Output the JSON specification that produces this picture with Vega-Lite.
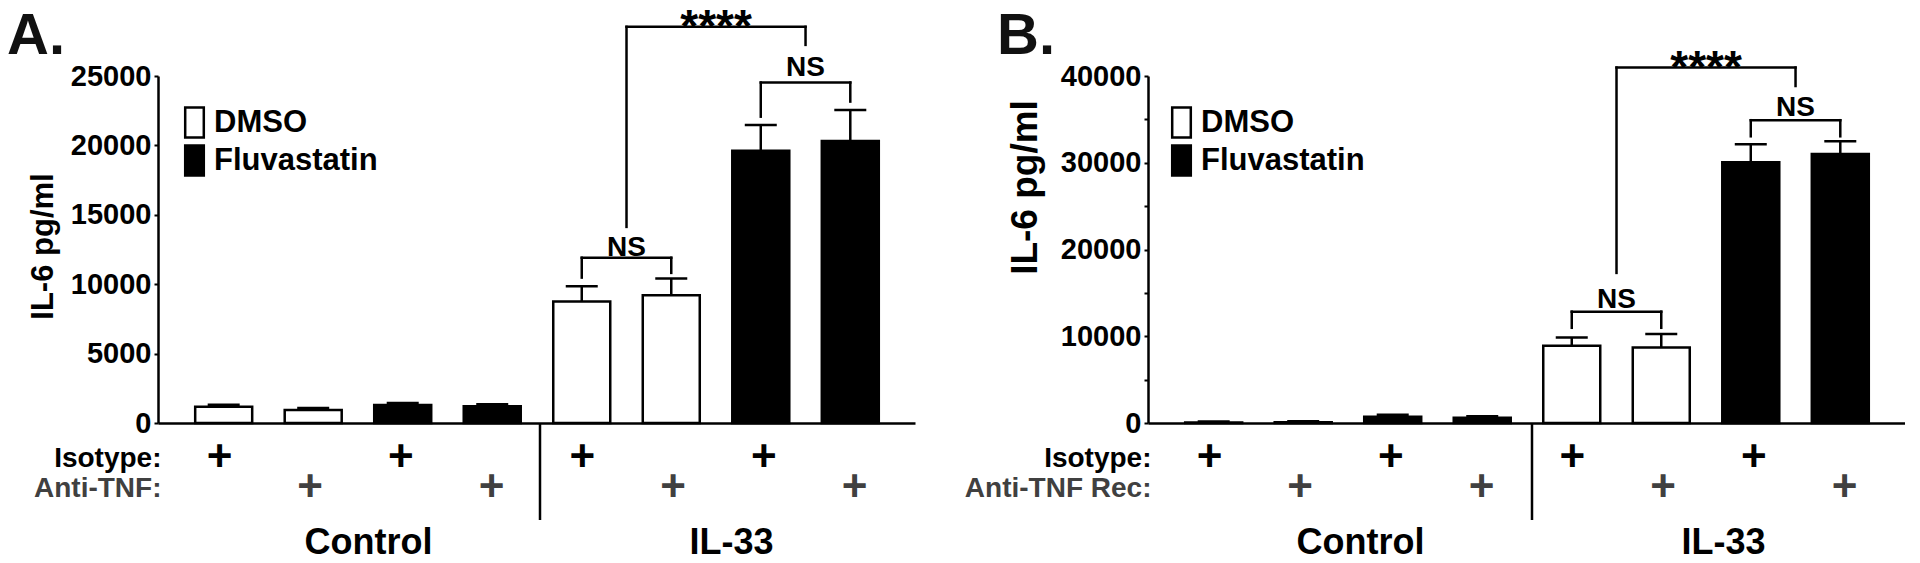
{
  "$schema": "https://vega.github.io/schema/vega-lite/v6.json",
  "padding": {"left": 7, "top": 4, "right": 0, "bottom": 0},
  "background": "white",
  "config": {
    "font": "Liberation Sans",
    "view": {"stroke": null},
    "axis": {"labelFont": "Liberation Sans", "titleFont": "Liberation Sans", "labelFontWeight": "bold", "titleFontWeight": "bold", "labelColor": "black", "titleColor": "black", "domainColor": "black", "tickColor": "black", "grid": false, "labelLimit": 0},
    "text": {"font": "Liberation Sans", "fontWeight": "bold", "color": "black"}
  },
  "datasets": {
    "barsA": [
      {"pos": 1, "treatment": "DMSO", "antibody": "Isotype", "group": "Control", "value": 1175, "upper": 1320},
      {"pos": 2, "treatment": "DMSO", "antibody": "Anti-TNF", "group": "Control", "value": 937, "upper": 1080},
      {"pos": 3, "treatment": "Fluvastatin", "antibody": "Isotype", "group": "Control", "value": 1297, "upper": 1441},
      {"pos": 4, "treatment": "Fluvastatin", "antibody": "Anti-TNF", "group": "Control", "value": 1200, "upper": 1347},
      {"pos": 5, "treatment": "DMSO", "antibody": "Isotype", "group": "IL-33", "value": 8746, "upper": 9857},
      {"pos": 6, "treatment": "DMSO", "antibody": "Anti-TNF", "group": "IL-33", "value": 9208, "upper": 10404},
      {"pos": 7, "treatment": "Fluvastatin", "antibody": "Isotype", "group": "IL-33", "value": 19612, "upper": 21470},
      {"pos": 8, "treatment": "Fluvastatin", "antibody": "Anti-TNF", "group": "IL-33", "value": 20311, "upper": 22559}
    ],
    "barsB": [
      {"pos": 1, "treatment": "DMSO", "antibody": "Isotype", "group": "Control", "value": 60, "upper": 170},
      {"pos": 2, "treatment": "DMSO", "antibody": "Anti-TNF Rec", "group": "Control", "value": 90, "upper": 200},
      {"pos": 3, "treatment": "Fluvastatin", "antibody": "Isotype", "group": "Control", "value": 726, "upper": 957},
      {"pos": 4, "treatment": "Fluvastatin", "antibody": "Anti-TNF Rec", "group": "Control", "value": 615, "upper": 772},
      {"pos": 5, "treatment": "DMSO", "antibody": "Isotype", "group": "IL-33", "value": 8900, "upper": 9855},
      {"pos": 6, "treatment": "DMSO", "antibody": "Anti-TNF Rec", "group": "IL-33", "value": 8690, "upper": 10260},
      {"pos": 7, "treatment": "Fluvastatin", "antibody": "Isotype", "group": "IL-33", "value": 30050, "upper": 32120},
      {"pos": 8, "treatment": "Fluvastatin", "antibody": "Anti-TNF Rec", "group": "IL-33", "value": 31010, "upper": 32470}
    ],
    "bracketsA": [
      {"pos": 5.5, "pos2": 7.5, "value": 28540, "value2": 28540},
      {"pos": 5.5, "pos2": 5.5, "value": 14129, "value2": 28540},
      {"pos": 7.5, "pos2": 7.5, "value": 27242, "value2": 28540},
      {"pos": 7, "pos2": 8, "value": 24526, "value2": 24526},
      {"pos": 7, "pos2": 7, "value": 22069, "value2": 24526},
      {"pos": 8, "pos2": 8, "value": 23157, "value2": 24526},
      {"pos": 5, "pos2": 6, "value": 11903, "value2": 11903},
      {"pos": 5, "pos2": 5, "value": 10476, "value2": 11903},
      {"pos": 6, "pos2": 6, "value": 10815, "value2": 11903}
    ],
    "labelsA": [
      {"pos": 6.5, "value": 28460, "label": "****"},
      {"pos": 7.5, "value": 25563, "label": "NS"},
      {"pos": 5.5, "value": 12637, "label": "NS"}
    ],
    "bracketsB": [
      {"pos": 5.5, "pos2": 7.5, "value": 40967, "value2": 40967},
      {"pos": 5.5, "pos2": 5.5, "value": 17302, "value2": 40967},
      {"pos": 7.5, "pos2": 7.5, "value": 38846, "value2": 40967},
      {"pos": 7, "pos2": 8, "value": 34904, "value2": 34904},
      {"pos": 7, "pos2": 7, "value": 33048, "value2": 34904},
      {"pos": 8, "pos2": 8, "value": 33048, "value2": 34904},
      {"pos": 5, "pos2": 6, "value": 12830, "value2": 12830},
      {"pos": 5, "pos2": 5, "value": 10974, "value2": 12830},
      {"pos": 6, "pos2": 6, "value": 10974, "value2": 12830}
    ],
    "labelsB": [
      {"pos": 6.5, "value": 40771, "label": "****"},
      {"pos": 7.5, "value": 36356, "label": "NS"},
      {"pos": 5.5, "value": 14224, "label": "NS"}
    ]
  },
  "columns": 2,
  "spacing": {"row": 0, "column": 233},
  "bounds": "flush",
  "resolve": {"scale": {"fill": "independent"}, "legend": {"fill": "independent"}},
  "concat": [
    {
      "width": 757,
      "height": 347,
      "layer": [
        {
          "data": {"name": "barsA"},
          "mark": {"type": "bar", "width": 57, "stroke": "black", "strokeWidth": 2.5},
          "encoding": {
            "x": {"field": "pos", "type": "quantitative", "scale": {"domain": [0.322, 8.667], "nice": false, "zero": false}, "axis": {"labels": false, "ticks": false, "title": null, "domain": true, "domainWidth": 2.5}},
            "y": {"field": "value", "type": "quantitative", "scale": {"domain": [0, 25000], "nice": false}, "axis": {"title": "IL-6 pg/ml", "titleFontSize": 31, "titleAngle": 270, "titleAlign": "center", "titleBaseline": "middle", "titleX": -115, "titleY": 170, "values": [0, 2500, 5000, 7500, 10000, 12500, 15000, 17500, 20000, 22500, 25000], "format": "d", "labelExpr": "datum.value % 5000 == 0 ? datum.label : ''", "labelFontSize": 29, "labelOverlap": false, "labelFlush": false, "labelPadding": 3, "tickSize": 4, "tickWidth": 2, "domainWidth": 2.5}},
            "fill": {"field": "treatment", "type": "nominal", "scale": {"domain": ["DMSO", "Fluvastatin"], "range": ["white", "black"]}, "legend": {"orient": "none", "legendX": 20, "legendY": 30, "title": null, "symbolType": "M-0.62,-1H0.62V1H-0.62Z", "symbolSize": 900, "symbolStrokeColor": "black", "symbolStrokeWidth": 2.5, "labelFontSize": 31, "labelFont": "Liberation Sans", "labelFontWeight": "bold", "labelColor": "black", "labelOffset": 3, "labelLimit": 0, "rowPadding": -3, "padding": 0}}
          }
        },
        {
          "data": {"name": "barsA"},
          "mark": {"type": "rule", "color": "black", "strokeWidth": 2.5},
          "encoding": {
            "x": {"field": "pos", "type": "quantitative", "title": null},
            "y": {"field": "value", "type": "quantitative", "title": "IL-6 pg/ml"},
            "y2": {"field": "upper"}
          }
        },
        {
          "data": {"name": "barsA"},
          "mark": {"type": "tick", "orient": "horizontal", "size": 32, "thickness": 2.5, "color": "black", "opacity": 1},
          "encoding": {
            "x": {"field": "pos", "type": "quantitative", "title": null},
            "y": {"field": "upper", "type": "quantitative", "title": "IL-6 pg/ml"}
          }
        },
        {
          "data": {"name": "bracketsA"},
          "mark": {"type": "rule", "color": "black", "strokeWidth": 2.5, "strokeCap": "square"},
          "encoding": {
            "x": {"field": "pos", "type": "quantitative", "title": null},
            "x2": {"field": "pos2"},
            "y": {"field": "value", "type": "quantitative", "title": "IL-6 pg/ml"},
            "y2": {"field": "value2"}
          }
        },
        {
          "data": {"name": "labelsA"},
          "mark": {"type": "text", "baseline": "middle", "align": "center", "fontWeight": "bold"},
          "encoding": {
            "x": {"field": "pos", "type": "quantitative", "title": null},
            "y": {"field": "value", "type": "quantitative", "title": "IL-6 pg/ml"},
            "text": {"field": "label"},
            "size": {"condition": {"test": "datum.label == 'NS'", "value": 28}, "value": 46}
          }
        },
        {
          "data": {"values": [{"panel": "A."}]},
          "mark": {"type": "text", "fontSize": 58, "fontWeight": "bold", "align": "left", "baseline": "alphabetic", "color": "#111"},
          "encoding": {
            "x": {"datum": -1.42, "type": "quantitative"},
            "y": {"datum": 26585, "type": "quantitative"},
            "text": {"field": "panel"}
          }
        }
      ]
    },
    {
      "width": 757,
      "height": 347,
      "layer": [
        {
          "data": {"name": "barsB"},
          "mark": {"type": "bar", "width": 57, "stroke": "black", "strokeWidth": 2.5},
          "encoding": {
            "x": {"field": "pos", "type": "quantitative", "scale": {"domain": [0.322, 8.667], "nice": false, "zero": false}, "axis": {"labels": false, "ticks": false, "title": null, "domain": true, "domainWidth": 2.5}},
            "y": {"field": "value", "type": "quantitative", "scale": {"domain": [0, 40000], "nice": false}, "axis": {"title": "IL-6 pg/ml", "titleFontSize": 37, "titleAngle": 270, "titleAlign": "center", "titleBaseline": "middle", "titleX": -123, "titleY": 111, "values": [0, 5000, 10000, 15000, 20000, 25000, 30000, 35000, 40000], "format": "d", "labelExpr": "datum.value % 10000 == 0 ? datum.label : ''", "labelFontSize": 29, "labelOverlap": false, "labelFlush": false, "labelPadding": 3, "tickSize": 4, "tickWidth": 2, "domainWidth": 2.5}},
            "fill": {"field": "treatment", "type": "nominal", "scale": {"domain": ["DMSO", "Fluvastatin"], "range": ["white", "black"]}, "legend": {"orient": "none", "legendX": 17, "legendY": 30, "title": null, "symbolType": "M-0.62,-1H0.62V1H-0.62Z", "symbolSize": 900, "symbolStrokeColor": "black", "symbolStrokeWidth": 2.5, "labelFontSize": 31, "labelFont": "Liberation Sans", "labelFontWeight": "bold", "labelColor": "black", "labelOffset": 3, "labelLimit": 0, "rowPadding": -3, "padding": 0}}
          }
        },
        {
          "data": {"name": "barsB"},
          "mark": {"type": "rule", "color": "black", "strokeWidth": 2.5},
          "encoding": {
            "x": {"field": "pos", "type": "quantitative", "title": null},
            "y": {"field": "value", "type": "quantitative", "title": "IL-6 pg/ml"},
            "y2": {"field": "upper"}
          }
        },
        {
          "data": {"name": "barsB"},
          "mark": {"type": "tick", "orient": "horizontal", "size": 32, "thickness": 2.5, "color": "black", "opacity": 1},
          "encoding": {
            "x": {"field": "pos", "type": "quantitative", "title": null},
            "y": {"field": "upper", "type": "quantitative", "title": "IL-6 pg/ml"}
          }
        },
        {
          "data": {"name": "bracketsB"},
          "mark": {"type": "rule", "color": "black", "strokeWidth": 2.5, "strokeCap": "square"},
          "encoding": {
            "x": {"field": "pos", "type": "quantitative", "title": null},
            "x2": {"field": "pos2"},
            "y": {"field": "value", "type": "quantitative", "title": "IL-6 pg/ml"},
            "y2": {"field": "value2"}
          }
        },
        {
          "data": {"name": "labelsB"},
          "mark": {"type": "text", "baseline": "middle", "align": "center", "fontWeight": "bold"},
          "encoding": {
            "x": {"field": "pos", "type": "quantitative", "title": null},
            "y": {"field": "value", "type": "quantitative", "title": "IL-6 pg/ml"},
            "text": {"field": "label"},
            "size": {"condition": {"test": "datum.label == 'NS'", "value": 28}, "value": 46}
          }
        },
        {
          "data": {"values": [{"panel": "B."}]},
          "mark": {"type": "text", "fontSize": 58, "fontWeight": "bold", "align": "left", "baseline": "alphabetic", "color": "#111"},
          "encoding": {
            "x": {"datum": -1.42, "type": "quantitative"},
            "y": {"datum": 42536, "type": "quantitative"},
            "text": {"field": "panel"}
          }
        }
      ]
    },
    {
      "width": 757,
      "height": 120,
      "layer": [
        {
          "data": {"name": "barsA"},
          "mark": {"type": "text", "text": "+", "fontSize": 44, "fontWeight": "bold", "baseline": "middle", "dy": 5},
          "encoding": {
            "x": {"field": "pos", "type": "quantitative", "scale": {"domain": [0.322, 8.667], "nice": false, "zero": false}, "axis": null},
            "y": {"field": "antibody", "type": "nominal", "scale": {"type": "point", "domain": ["top", "Isotype", "Anti-TNF", "bottom", "group"], "padding": 0}, "axis": {"title": null, "ticks": false, "tickSize": 0, "domain": false, "labelExpr": "datum.value == 'Isotype' || datum.value == 'Anti-TNF' ? datum.value + ':' : ''", "labelFontSize": 28, "labelAlign": "right", "labelBaseline": "middle", "labelPadding": -3, "labelOffset": 5, "labelColor": {"condition": {"test": "datum.value == 'Isotype'", "value": "black"}, "value": "#404040"}}},
            "color": {"condition": {"test": "datum.antibody == 'Isotype'", "value": "black"}, "value": "#404040"}
          }
        },
        {
          "data": {"name": "barsA"},
          "transform": [{"aggregate": [{"op": "mean", "field": "pos", "as": "pos"}], "groupby": ["group"]}],
          "mark": {"type": "text", "fontSize": 36, "fontWeight": "bold", "baseline": "middle", "dx": 13, "color": "black"},
          "encoding": {
            "x": {"field": "pos", "type": "quantitative", "axis": null},
            "y": {"datum": "group", "type": "nominal"},
            "text": {"field": "group"}
          }
        },
        {
          "data": {"values": [{}]},
          "mark": {"type": "rule", "color": "black", "strokeWidth": 2.5, "xOffset": 3, "y2Offset": 7},
          "encoding": {
            "x": {"datum": 4.5, "type": "quantitative", "axis": null},
            "y": {"datum": "top", "type": "nominal"},
            "y2": {"datum": "bottom"}
          }
        }
      ]
    },
    {
      "width": 757,
      "height": 120,
      "layer": [
        {
          "data": {"name": "barsB"},
          "mark": {"type": "text", "text": "+", "fontSize": 44, "fontWeight": "bold", "baseline": "middle", "dy": 5},
          "encoding": {
            "x": {"field": "pos", "type": "quantitative", "scale": {"domain": [0.322, 8.667], "nice": false, "zero": false}, "axis": null},
            "y": {"field": "antibody", "type": "nominal", "scale": {"type": "point", "domain": ["top", "Isotype", "Anti-TNF Rec", "bottom", "group"], "padding": 0}, "axis": {"title": null, "ticks": false, "tickSize": 0, "domain": false, "labelExpr": "datum.value == 'Isotype' || datum.value == 'Anti-TNF Rec' ? datum.value + ':' : ''", "labelFontSize": 28, "labelAlign": "right", "labelBaseline": "middle", "labelPadding": -3, "labelOffset": 5, "labelColor": {"condition": {"test": "datum.value == 'Isotype'", "value": "black"}, "value": "#404040"}}},
            "color": {"condition": {"test": "datum.antibody == 'Isotype'", "value": "black"}, "value": "#404040"}
          }
        },
        {
          "data": {"name": "barsB"},
          "transform": [{"aggregate": [{"op": "mean", "field": "pos", "as": "pos"}], "groupby": ["group"]}],
          "mark": {"type": "text", "fontSize": 36, "fontWeight": "bold", "baseline": "middle", "dx": 15, "color": "black"},
          "encoding": {
            "x": {"field": "pos", "type": "quantitative", "axis": null},
            "y": {"datum": "group", "type": "nominal"},
            "text": {"field": "group"}
          }
        },
        {
          "data": {"values": [{}]},
          "mark": {"type": "rule", "color": "black", "strokeWidth": 2.5, "xOffset": 5, "y2Offset": 7},
          "encoding": {
            "x": {"datum": 4.5, "type": "quantitative", "axis": null},
            "y": {"datum": "top", "type": "nominal"},
            "y2": {"datum": "bottom"}
          }
        }
      ]
    }
  ]
}
